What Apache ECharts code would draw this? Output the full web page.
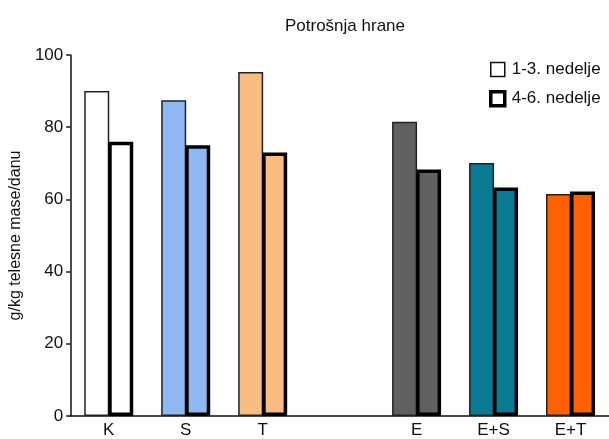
<!DOCTYPE html>
<html>
<head>
<meta charset="utf-8">
<script src="https://cdn.jsdelivr.net/npm/echarts@6/dist/echarts.min.js"></script>
<style>
	html, body { margin: 0; padding: 0; background: #fff; }
	#chart { width: 609px; height: 439px; }
</style>
</head>
<body>
<div id="chart"></div>
<script>
	// grupe (prazno mesto između T i E)
	const categories = ['K', 'S', 'T', '', 'E', 'E+S', 'E+T'];
	const barColors = ['#ffffff', '#8fb8f2', '#f9bd82', '#ffffff', '#606060', '#0a7b93', '#ff6000'];
	const weeks13 = [90, 87.5, 95.3, '-', 81.5, 70.1, 61.5];
	const weeks46 = [76, 75, 73, '-', 68.3, 63.3, 62.2];
	const seriesNames = ['1-3. nedelje', '4-6. nedelje'];
	const yTicks = [0, 20, 40, 60, 80, 100];

	const font = 'Liberation Sans, Arial, sans-serif';

	function coloredData(values) {
		return values.map((v, i) => ({ value: v, itemStyle: { color: barColors[i] } }));
	}

	var myChart = echarts.init(document.getElementById('chart'));
	myChart.setOption({
		animation: false,
		title: {
			text: 'Potrošnja hrane',
			left: 340,
			textAlign: 'center',
			top: 13,
			textStyle: { fontFamily: font, fontSize: 17, fontWeight: 'normal', color: '#111' }
		},
		legend: {
			left: 484,
			top: 56,
			orient: 'vertical',
			itemWidth: 14,
			itemHeight: 14,
			itemGap: 12,
			icon: 'rect',
			textStyle: { fontFamily: font, fontSize: 17, color: '#111', padding: [0, 0, 0, 2] },
			data: [
				{ name: seriesNames[0], itemStyle: { color: '#fff', borderColor: '#111', borderWidth: 1.5 } },
				{ name: seriesNames[1], itemStyle: { color: '#fff', borderColor: '#000', borderWidth: 3.5 } }
			]
		},
		grid: { left: 68, right: -5, top: 55, bottom: 18 },
		xAxis: {
			type: 'category',
			data: categories,
			axisLine: { lineStyle: { color: '#111', width: 1.5 } },
			axisTick: { show: false },
			axisLabel: { fontFamily: font, fontSize: 17, color: '#111', margin: 6 }
		},
		yAxis: {
			type: 'value',
			min: yTicks[0],
			max: yTicks[yTicks.length - 1],
			interval: 20,
			name: 'g/kg telesne mase/danu',
			nameLocation: 'middle',
			nameGap: 40,
			nameTextStyle: { fontFamily: font, fontSize: 16, color: '#111' },
			splitLine: { show: false },
			axisLine: { show: true, lineStyle: { color: '#111', width: 1.5 } },
			axisTick: { show: true, length: 4, lineStyle: { color: '#111', width: 1.5 } },
			axisLabel: { fontFamily: font, fontSize: 17, color: '#111', margin: 7 }
		},
		series: [
			{
				name: seriesNames[0],
				type: 'bar',
				barWidth: 25,
				barGap: '-4%',
				itemStyle: { borderColor: '#222', borderWidth: 1.5 },
				data: coloredData(weeks13)
			},
			{
				name: seriesNames[1],
				type: 'bar',
				barWidth: 25,
				itemStyle: { borderColor: '#000', borderWidth: 3.5 },
				data: coloredData(weeks46)
			}
		]
	});
</script>
</body>
</html>
